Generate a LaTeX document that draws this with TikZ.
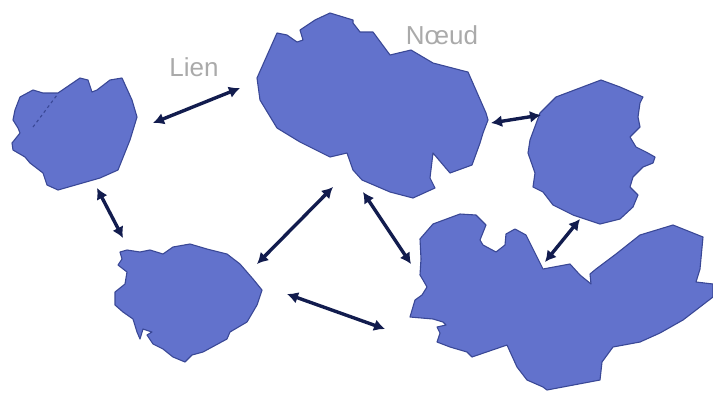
\documentclass[tikz,border=0pt]{standalone}
\usepackage{fontspec}
\setmainfont{Liberation Sans}
\usetikzlibrary{arrows.meta}
\definecolor{blobfill}{RGB}{98,114,204}
\definecolor{blobline}{RGB}{58,72,150}
\definecolor{arrowcol}{RGB}{18,28,78}
\definecolor{labelcol}{RGB}{170,170,170}
\tikzset{
  blob/.style={fill=blobfill,draw=blobline,line width=1.1pt,line join=round},
  link/.style={draw=arrowcol,line width=3.4pt,{Latex[length=11pt,width=12pt]}-{Latex[length=11pt,width=12pt]}},
  lbl/.style={text=labelcol,font=\fontsize{26}{28}\selectfont,inner sep=0pt}
}
\begin{document}
\begin{tikzpicture}[x=1pt,y=-1pt]
\useasboundingbox (0,0) rectangle (713,392);
% blob 1
\path[blob] (15,110) -- (20,97) -- (33,90) -- (43,93) -- (58,93) -- (80,78) -- (88,80) -- (92,92) -- (97,90) -- (110,80) -- (122,78) -- (132,100) -- (137,117) -- (130,140) -- (118,170) -- (100,178) -- (58,190) -- (47,185) -- (43,173) -- (30,163) -- (25,157) -- (13,150) -- (12,143) -- (20,133) -- (18,128) -- (13,120) -- cycle;
\draw[blobline,line width=1.1pt,dashed] (33,127) -- (57,95);
% blob 2
\path[blob] (257,78) -- (277,33) -- (287,35) -- (297,42) -- (303,40) -- (300,30) -- (315,20) -- (330,13) -- (353,20) -- (353,23) -- (360,32) -- (373,32) -- (390,55) -- (411,50) -- (433,63) -- (460,70) -- (468,72) -- (486,113) -- (488,120) -- (483,133) -- (480,143) -- (472,165) -- (450,173) -- (433,153) -- (430,178) -- (435,188) -- (413,198) -- (390,192) -- (362,180) -- (353,170) -- (347,153) -- (330,157) -- (300,142) -- (277,128) -- (260,100) -- cycle;
% blob 3
\path[blob] (540,113) -- (556,97) -- (601,80) -- (620,87) -- (643,97) -- (640,103) -- (638,117) -- (640,127) -- (630,137) -- (636,147) -- (646,152) -- (655,157) -- (653,163) -- (643,167) -- (633,177) -- (630,187) -- (638,195) -- (633,207) -- (620,219) -- (600,224) -- (573,215) -- (553,205) -- (543,192) -- (533,187) -- (535,173) -- (528,153) -- (530,140) -- cycle;
% blob 4
\path[blob] (120,252) -- (127,250) -- (140,252) -- (150,250) -- (163,254) -- (173,247) -- (190,244) -- (207,249) -- (227,254) -- (240,264) -- (253,279) -- (262,290) -- (257,305) -- (247,322) -- (230,332) -- (227,339) -- (203,352) -- (192,355) -- (185,362) -- (173,357) -- (163,349) -- (153,344) -- (147,335) -- (152,332) -- (143,329) -- (140,339) -- (137,332) -- (133,319) -- (123,312) -- (115,305) -- (115,292) -- (125,284) -- (127,272) -- (118,265) -- (122,259) -- cycle;
% blob 5
\path[blob] (420,239) -- (433,224) -- (460,214) -- (476,215) -- (486,225) -- (480,240) -- (483,245) -- (496,252) -- (505,245) -- (506,234) -- (515,229) -- (526,235) -- (543,269) -- (570,264) -- (580,275) -- (591,284) -- (590,274) -- (596,269) -- (616,254) -- (640,235) -- (673,225) -- (703,237) -- (700,269) -- (696,282) -- (713,284) -- (713,297) -- (683,320) -- (660,333) -- (640,342) -- (613,347) -- (602,362) -- (600,380) -- (547,390) -- (543,387) -- (527,380) -- (517,367) -- (507,345) -- (472,357) -- (467,352) -- (450,347) -- (437,342) -- (440,333) -- (437,327) -- (446,325) -- (443,322) -- (433,319) -- (410,317) -- (415,300) -- (422,295) -- (427,287) -- (423,280) -- (420,275) -- (421,259) -- cycle;
% labels
\node[lbl] (lien) at (194,67) {Lien};
\node[lbl] (noeud) at (442,35) {Nœud};
% link endpoints
\coordinate (l1a) at (153,123); \coordinate (l1b) at (240,88);
\coordinate (l2a) at (491,123); \coordinate (l2b) at (541,115);
\coordinate (l3a) at (97,188);  \coordinate (l3b) at (123,238);
\coordinate (l4a) at (333,187); \coordinate (l4b) at (257,264);
\coordinate (l5a) at (287,294); \coordinate (l5b) at (385,329);
\coordinate (l6a) at (363,192); \coordinate (l6b) at (411,264);
\coordinate (l7a) at (580,219); \coordinate (l7b) at (545,262);
\draw[link] (l1a) -- (l1b);
\draw[link] (l2a) -- (l2b);
\draw[link] (l3a) -- (l3b);
\draw[link] (l4a) -- (l4b);
\draw[link] (l5a) -- (l5b);
\draw[link] (l6a) -- (l6b);
\draw[link] (l7a) -- (l7b);
\end{tikzpicture}
\end{document}
